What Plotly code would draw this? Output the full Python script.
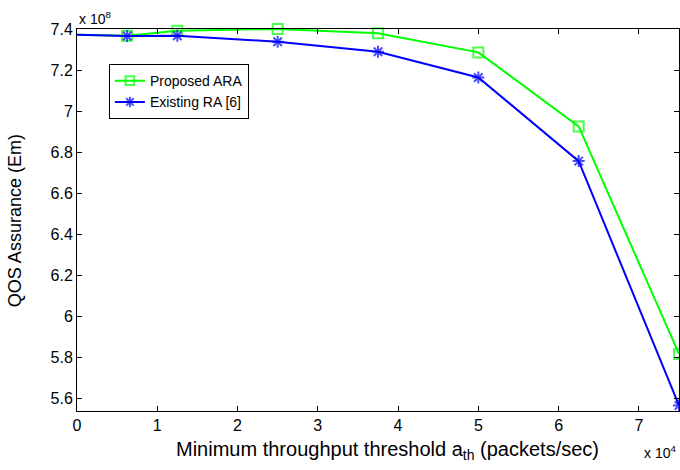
import plotly.graph_objects as go

# Data (x in units of 1e4 packets/sec, y in units of 1e8)
x_vals = [0, 0.625, 1.25, 2.5, 3.75, 5.0, 6.25, 7.5]
proposed_ara = [7.372, 7.367, 7.392, 7.400, 7.379, 7.286, 6.925, 5.816]
existing_ra = [7.372, 7.366, 7.367, 7.338, 7.289, 7.164, 6.756, 5.565]

x_ticks = [0, 1, 2, 3, 4, 5, 6, 7]
x_ticktext = ["0", "1", "2", "3", "4", "5", "6", "7"]
y_ticks = [5.6, 5.8, 6.0, 6.2, 6.4, 6.6, 6.8, 7.0, 7.2, 7.4]
y_ticktext = ["5.6", "5.8", "6", "6.2", "6.4", "6.6", "6.8", "7", "7.2", "7.4"]

FONT = "Liberation Sans, Arial, sans-serif"
marker_sizes = [0] + [10] * (len(x_vals) - 1)

fig = go.Figure()
fig.add_trace(go.Scatter(
    x=x_vals, y=proposed_ara, name="Proposed ARA", mode="lines+markers",
    line=dict(color="#00ff00", width=2),
    marker=dict(symbol="square-open", size=marker_sizes, color="#00ff00",
                line=dict(width=2, color="#00ff00")),
    cliponaxis=False,
))
fig.add_trace(go.Scatter(
    x=x_vals, y=existing_ra, name="Existing RA [6]", mode="lines+markers",
    line=dict(color="#0000ff", width=2),
    marker=dict(symbol="asterisk-open", size=marker_sizes, color="#0000ff",
                line=dict(width=2, color="#0000ff")),
    cliponaxis=False,
))

axis_common = dict(
    showline=True, linecolor="black", linewidth=1, mirror="ticks",
    ticks="inside", ticklen=5, tickcolor="black", tickwidth=1,
    showgrid=False, zeroline=False,
    tickfont=dict(family=FONT, size=16, color="black"),
)

fig.update_layout(
    width=680, height=470,
    margin=dict(l=77, r=1, t=29, b=59),
    plot_bgcolor="white", paper_bgcolor="white",
    font=dict(family=FONT, color="black"),
    xaxis=dict(range=[0, 7.5], tickvals=x_ticks, ticktext=x_ticktext, **axis_common),
    yaxis=dict(range=[5.538, 7.4], tickvals=y_ticks, ticktext=y_ticktext, **axis_common),
    legend=dict(x=0.053, y=0.908, xanchor="left", yanchor="top",
                bordercolor="black", borderwidth=1, bgcolor="white",
                font=dict(family=FONT, size=14), tracegroupgap=0,
                itemwidth=30),
    showlegend=True,
    annotations=[
        dict(text="Minimum throughput threshold a<sub>th</sub> (packets/sec)",
             xref="paper", yref="paper", x=0.5166, y=0, xanchor="center", yanchor="top",
             yshift=-25, showarrow=False, font=dict(family=FONT, size=20)),
        dict(text="QOS Assurance (Em)", textangle=-90,
             xref="paper", yref="paper", x=0, y=0.497, xanchor="center", yanchor="middle",
             xshift=-62, showarrow=False, font=dict(family=FONT, size=18)),
        dict(text="x 10<sup>8</sup>", xref="paper", yref="paper", x=0, y=1,
             xanchor="left", yanchor="bottom", showarrow=False, yshift=0,
             font=dict(family=FONT, size=14)),
        dict(text="x 10<sup>4</sup>", xref="paper", yref="paper", x=0.998, y=0,
             xanchor="right", yanchor="top", showarrow=False, yshift=-30,
             font=dict(family=FONT, size=14)),
    ],
)

fig.write_html("out.html", config={"displayModeBar": False},
               post_script="document.body.style.margin='0';document.body.style.overflow='hidden';")
